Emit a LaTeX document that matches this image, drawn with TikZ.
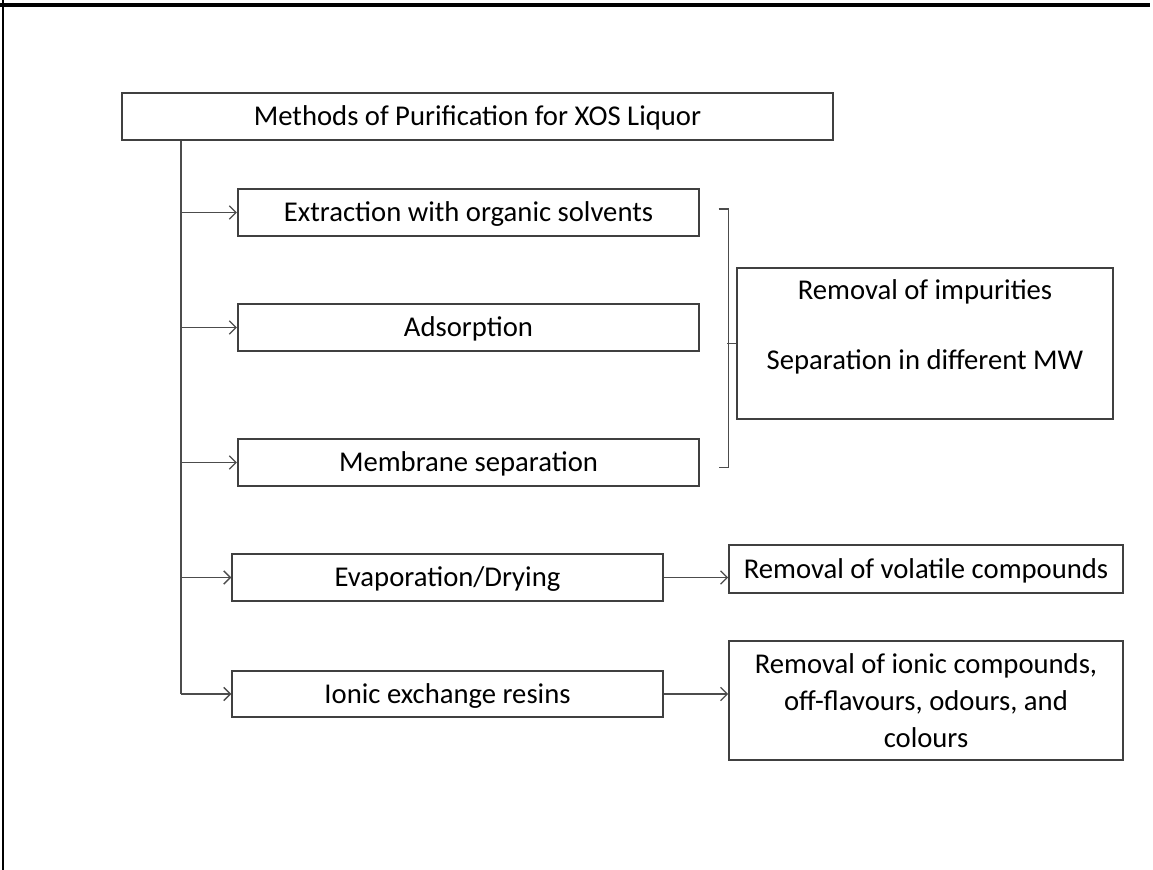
\documentclass[tikz,border=0pt]{standalone}
\usepackage{fontspec}
\setmainfont{Carlito}
\usetikzlibrary{arrows.meta,positioning,calc}

\begin{document}
\begin{tikzpicture}[
  x=0.75pt, y=-0.75pt,
  font=\fontsize{21.5}{27.5}\selectfont,
  box/.style={draw=black!75, line width=1.3pt, inner sep=0pt, align=center},
  onel/.style={box, minimum height=35pt, text height=13.8pt, text depth=0pt},
  link/.style={draw=black!70, line width=1pt},
  arrow/.style={-{Straight Barb[length=5pt,width=10pt]}, draw=black!70, line width=1pt},
]
\useasboundingbox (0,0) rectangle (1153,870);
\draw[line width=2.5pt] (0,5) -- (1150,5);
\draw[line width=2pt] (3,0) -- (3,870);

\node[onel, minimum width=533pt] (title) at (477.5,116.5) {Methods of Purification for XOS Liquor};

\node[onel, minimum width=346pt] (ext) at (468.5,212.5) {Extraction with organic solvents};
\node[onel, minimum width=346pt] (ads) at (468.5,327.5) {Adsorption};
\node[onel, minimum width=346pt] (mem) at (468.5,462.5) {Membrane separation};
\node[onel, minimum width=323pt] (eva) at (447.5,577.5) {Evaporation/Drying};
\node[onel, minimum width=323pt] (ion) at (447.5,694) {Ionic exchange resins};

\node[box, minimum width=282pt, minimum height=113pt] (mw) at (925,343.5) {};
\node[align=center, font=\fontsize{21.5}{52.5}\selectfont] (mwtext) at (925,327) {Removal of impurities\\Separation in different MW};
\node[onel, minimum width=295.5pt, minimum height=36pt] (vol) at (926,569) {Removal of volatile compounds};
\node[box, minimum width=295.5pt, minimum height=89pt] (ionres) at (926,700.5) {Removal of ionic compounds,\\off-flavours, odours, and\\colours};

% trunk and branches
\coordinate (trunk) at (181,140);
\draw[link] (title.south -| trunk) -- (trunk |- ion.west);
\foreach \n in {ext,ads,mem,eva,ion}
  \draw[arrow] (trunk |- \n.west) -- (\n.west);

% bracket for the first three methods
\draw[link] ([xshift=14pt,yshift=2.5pt]ext.east) -- ++(7.5pt,0) |- ([xshift=14pt,yshift=-3.5pt]mem.east);
\draw[link] (mw.west) -- ++(-7pt,0);

\draw[arrow] (eva.east) -- (eva.east -| vol.west);
\draw[arrow] (ion.east) -- (ion.east -| ionres.west);

\end{tikzpicture}
\end{document}
